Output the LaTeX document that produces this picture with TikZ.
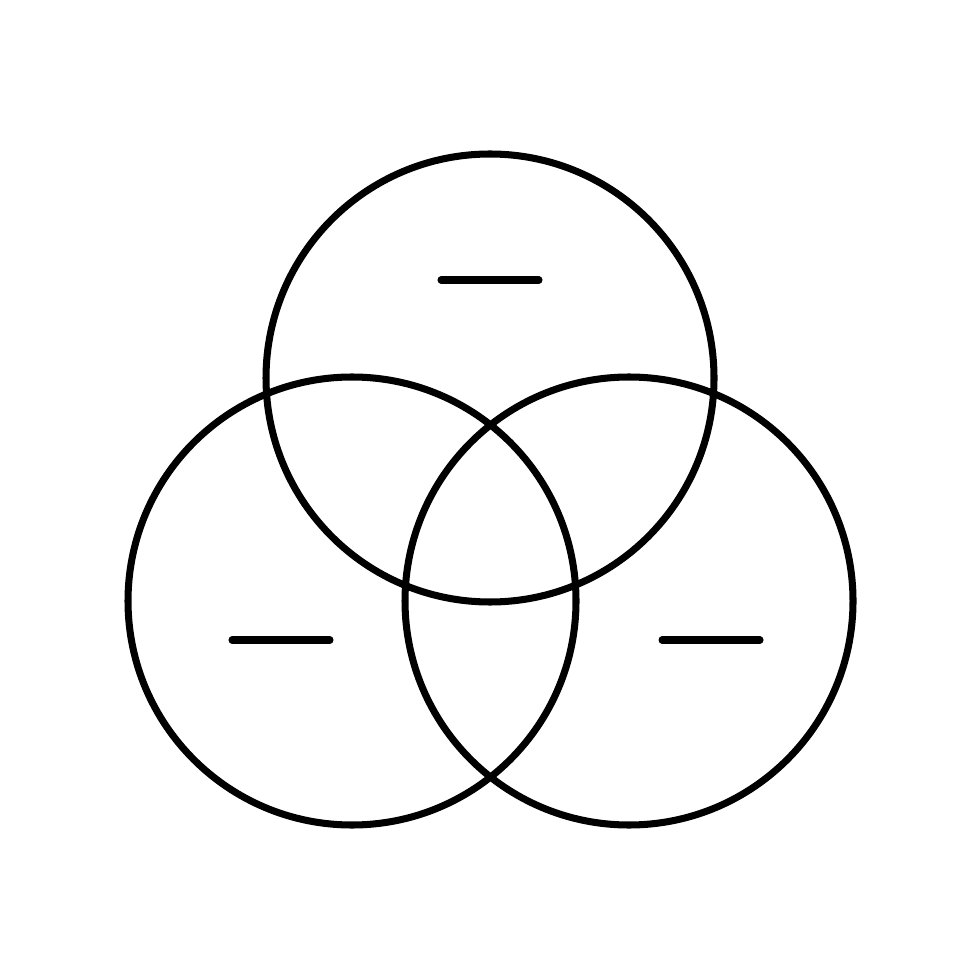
\documentclass[tikz,border=0pt]{standalone}
\begin{document}
\begin{tikzpicture}[x=0.01cm,y=-0.01cm,
  ring/.style={draw=black,line width=2pt},
  bar/.style={draw=black,line width=2pt,line cap=round}]
\useasboundingbox[fill=white] (0,0) rectangle (980,980);
\draw[ring] (490,378) circle[radius=224];
\draw[ring] (352,601) circle[radius=224];
\draw[ring] (629,601) circle[radius=224];
\draw[bar] (441,280) -- (539,280);
\draw[bar] (232,640) -- (330,640);
\draw[bar] (662,640) -- (760,640);
\end{tikzpicture}
\end{document}
